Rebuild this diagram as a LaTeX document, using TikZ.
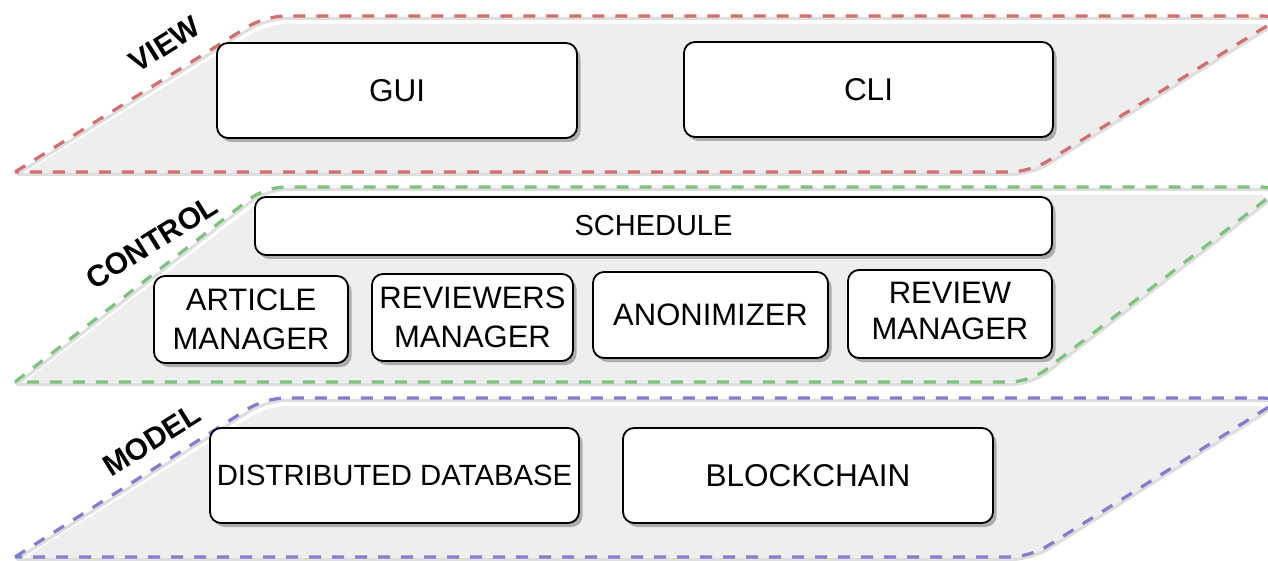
\documentclass[tikz,border=0pt]{standalone}
\usepackage{fontspec}
\setmainfont{Liberation Sans}
\usetikzlibrary{shadows}

\definecolor{viewred}{HTML}{D26E6E}
\definecolor{ctrlgreen}{HTML}{7DC27D}
\definecolor{modelblue}{HTML}{827DCD}
\definecolor{layerfill}{HTML}{EEEEEE}

\tikzset{
  layerfill/.style={fill=layerfill, draw=none, rounded corners=20pt},
  layershade/.style={draw=black!13, line width=3pt, rounded corners=20pt},
  layerline/.style={line width=3.2pt, dash pattern=on 12pt off 11pt, rounded corners=20pt},
  layername/.style={font=\bfseries\fontsize{30}{34}\selectfont, rotate=32, inner sep=0pt},
  compbox/.style={draw=black, line width=1.8pt, rounded corners=11pt, fill=white,
    inner sep=0pt, align=center, font=\fontsize{30}{36}\selectfont,
    drop shadow={shadow xshift=3.5pt, shadow yshift=-4pt, fill=black!35, opacity=0.9}},
  bigtext/.style={font=\fontsize{31.5}{38}\selectfont},
  twoline/.style={font=\fontsize{31}{39.5}\selectfont},
}

\begin{document}
\begin{tikzpicture}[x=1pt, y=-1pt]
\useasboundingbox (0,0) rectangle (1268,561);
\clip (0,0) rectangle (1268,561);
\fill[white] (0,0) rectangle (1268,561);

% ---------- VIEW layer ----------
\path[layerfill] (19,176) -- (268,24) -- (1275,24) -- (1028.5,176) -- cycle;
\draw[layershade, shift={(1.5pt,-2.5pt)}] (15,172) -- (265,16) -- (1283,16) -- (1030,172) -- (15,172);
\draw[layerline, viewred] (15,172) -- (265,16) -- (1283,16) -- (1030,172) -- (15,172);

% ---------- CONTROL layer ----------
\path[layerfill] (19,386) -- (268,195) -- (1277.6,195) -- (1030,386) -- cycle;
\draw[layershade, shift={(1.5pt,-2.5pt)}] (15,382) -- (265,187) -- (1282,187) -- (1030,382) -- (15,382);
\draw[layerline, ctrlgreen] (15,382) -- (265,187) -- (1282,187) -- (1030,382) -- (15,382);

% ---------- MODEL layer ----------
\path[layerfill] (19,561) -- (268,406) -- (1275,406) -- (1028.6,561) -- cycle;
\draw[layershade, shift={(1.5pt,-2.5pt)}] (15,557) -- (265,398) -- (1283,398) -- (1030,557) -- (15,557);
\draw[layerline, modelblue] (15,557) -- (265,398) -- (1283,398) -- (1030,557) -- (15,557);

% ---------- layer names ----------
\node[layername] (viewlbl) at (165,44) {VIEW};
\node[layername] (ctrllbl) at (152,242) {CONTROL};
\node[layername] (modellbl) at (152,440) {MODEL};

% ---------- view components ----------
\node[compbox, bigtext, minimum width=360pt, minimum height=95pt] (gui) at (397,90.5) {GUI};
\node[compbox, bigtext, minimum width=369pt, minimum height=95pt] (cli) at (868.5,89.5) {CLI};

% ---------- control components ----------
\node[compbox, font=\fontsize{29}{35}\selectfont, minimum width=797pt, minimum height=58pt] (schedule) at (653.5,226) {SCHEDULE};
\node[compbox, twoline, minimum width=194pt, minimum height=87pt] (artmgr) at (251,319.5) {ARTICLE\\MANAGER};
\node[compbox, twoline, minimum width=201pt, minimum height=87pt] (revsmgr) at (472.5,317.5) {REVIEWERS\\MANAGER};
\node[compbox, twoline, minimum width=235pt, minimum height=86pt] (anon) at (710.5,315) {ANONIMIZER};
\node[compbox, font=\fontsize{31}{36}\selectfont, minimum width=204pt, minimum height=88pt] (revmgr) at (950,314) {\raisebox{3pt}{\begin{tabular}{@{}c@{}}REVIEW\\MANAGER\end{tabular}}};

% ---------- model components ----------
\node[compbox, font=\fontsize{29.3}{35}\selectfont, minimum width=369pt, minimum height=95pt] (ddb) at (394.5,475.5) {DISTRIBUTED DATABASE};
\node[compbox, bigtext, minimum width=370pt, minimum height=95pt] (chain) at (808,475.5) {BLOCKCHAIN};
\end{tikzpicture}
\end{document}
